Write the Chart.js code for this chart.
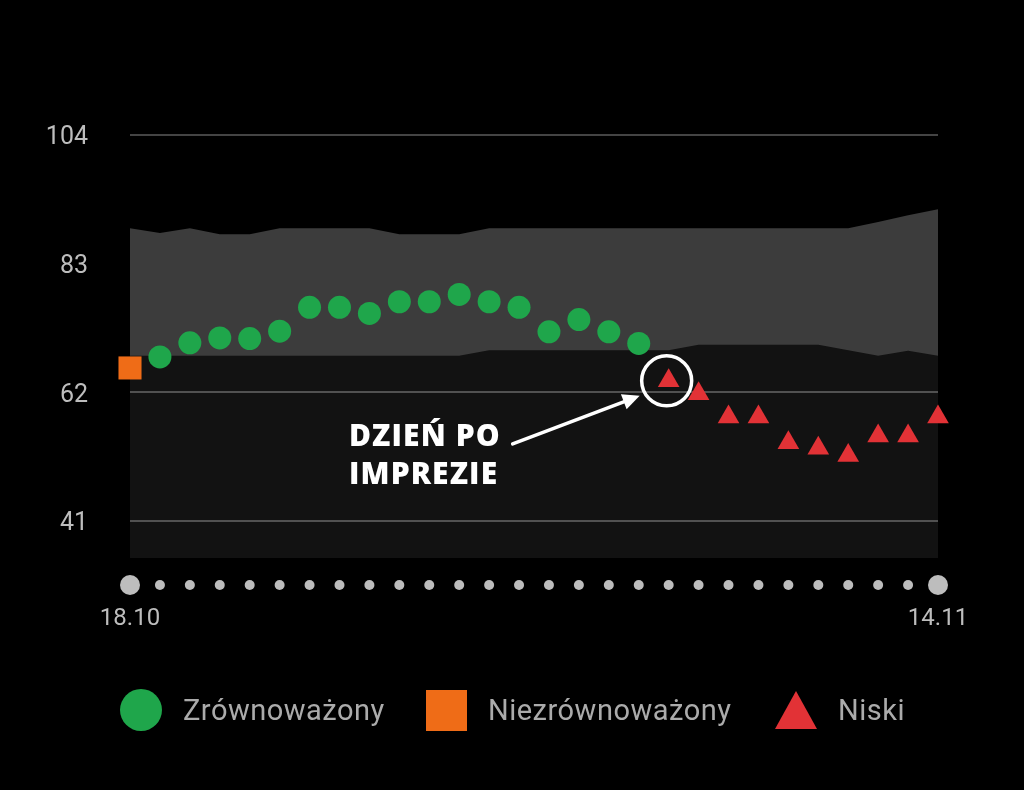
<!DOCTYPE html>
<html lang="pl">
<head>
<meta charset="utf-8">
<script src="https://cdn.jsdelivr.net/npm/chart.js@4"></script>
<style>
  body { margin: 0; background: #000; }
  #wrap { position: relative; width: 1024px; height: 790px; overflow: hidden; }
  #note {
    position: absolute; left: 349px; top: 416px;
    font: 800 30px/38px "Open Sans", sans-serif; color: #fff; letter-spacing: 1.1px;
  }
  .leg { position: absolute; top: 689px; height: 42px; display: flex; align-items: center;
    font: 400 29px "Roboto", sans-serif; color: #ababab; letter-spacing: 0.5px; }
  .leg span.mk { display: inline-block; margin-right: 21px; }
</style>
</head>
<body>
<div id="wrap">
  <canvas id="chart" width="1024" height="790"></canvas>
  <div id="note">DZIEŃ PO<br>IMPREZIE</div>
  <div class="leg" style="left:120px"><span class="mk" style="width:42px;height:42px;border-radius:50%;background:#1fa64b"></span>Zrównoważony</div>
  <div class="leg" style="left:426px"><span class="mk" style="width:41px;height:41px;background:#ef6c17"></span>Niezrównoważony</div>
  <div class="leg" style="left:775px"><span class="mk" style="width:42px;height:38px;margin-right:21px"><svg width="42" height="38"><polygon points="21,0 42,38 0,38" fill="#e23236"/></svg></span>Niski</div>
</div>
<script>
const labels = [
  "18.10", "19.10", "20.10", "21.10", "22.10", "23.10", "24.10",
  "25.10", "26.10", "27.10", "28.10", "29.10", "30.10", "31.10",
  "01.11", "02.11", "03.11", "04.11", "05.11", "06.11", "07.11",
  "08.11", "09.11", "10.11", "11.11", "12.11", "13.11", "14.11",
];
const yTicks = [41, 62, 83, 104];

// values
const zrownowazony = [
  null, 67.8, 70.1, 70.9, 70.8, 72.0, 75.9, 75.9, 74.9, 76.8, 76.8, 78.0, 76.8, 75.9,
  71.9, 73.9, 71.9, 70.0, null, null, null, null, null, null, null, null, null, null,
];
const niezrownowazony = [
  66.0, null, null, null, null, null, null, null, null, null, null, null, null, null,
  null, null, null, null, null, null, null, null, null, null, null, null, null, null,
];
const niski = [
  null, null, null, null, null, null, null, null, null, null, null, null, null, null,
  null, null, null, null, 63.9, 61.8, 58.0, 58.0, 53.8, 52.9, 51.7, 54.9, 54.9, 58.0,
];
// normal range band
const normaDol = [
  68.0, 68.0, 68.0, 68.0, 68.0, 68.0, 68.0, 68.0, 68.0, 68.0, 68.0, 68.0, 68.9, 68.9,
  68.9, 68.9, 68.9, 68.9, 68.9, 69.8, 69.8, 69.8, 69.8, 69.8, 68.9, 68.0, 68.8, 68.0,
];
const normaGora = [
  88.8, 88.0, 88.8, 87.8, 87.8, 88.8, 88.8, 88.8, 88.8, 87.8, 87.8, 87.8, 88.8, 88.8,
  88.8, 88.8, 88.8, 88.8, 88.8, 88.8, 88.8, 88.8, 88.8, 88.8, 88.8, 89.8, 90.9, 91.9,
];
const markedDay = 18;

const decor = {
  id: "decor",
  afterDatasetsDraw(chart) {
    const ctx = chart.ctx;
    const x = chart.scales.x.getPixelForValue(markedDay);
    const y = chart.scales.y.getPixelForValue(niski[markedDay]);
    ctx.save();
    ctx.strokeStyle = "#fff";
    ctx.fillStyle = "#fff";
    ctx.lineWidth = 3.5;
    ctx.beginPath();
    ctx.arc(x - 2, y, 25, 0, Math.PI * 2);
    ctx.stroke();
    // arrow
    const tx = x - 29, ty = y + 15;
    const sx = x - 156, sy = y + 63;
    const ang = Math.atan2(ty - sy, tx - sx);
    ctx.lineCap = "round";
    ctx.beginPath();
    ctx.moveTo(sx, sy);
    ctx.lineTo(tx - Math.cos(ang) * 10, ty - Math.sin(ang) * 10);
    ctx.stroke();
    ctx.beginPath();
    ctx.moveTo(tx, ty);
    ctx.lineTo(tx - Math.cos(ang) * 17 - Math.sin(ang) * 8, ty - Math.sin(ang) * 17 + Math.cos(ang) * 8);
    ctx.lineTo(tx - Math.cos(ang) * 17 + Math.sin(ang) * 8, ty - Math.sin(ang) * 17 - Math.cos(ang) * 8);
    ctx.closePath();
    ctx.fill();
    ctx.restore();
  },
  afterDraw(chart) {
    const ctx = chart.ctx;
    const xs = chart.scales.x;
    const yy = chart.chartArea.bottom + 27;
    ctx.save();
    ctx.fillStyle = "#bdbdbd";
    labels.forEach((l, i) => {
      const r = i === 0 || i === labels.length - 1 ? 10 : 5;
      ctx.beginPath();
      ctx.arc(xs.getPixelForValue(i), yy, r, 0, Math.PI * 2);
      ctx.fill();
    });
    ctx.restore();
  },
};

new Chart(document.getElementById("chart"), {
  type: "line",
  data: {
    labels: labels,
    datasets: [
      {
        label: "Zrównoważony",
        data: zrownowazony,
        showLine: false,
        pointStyle: "circle",
        pointRadius: 11.5,
        pointBackgroundColor: "#1fa64b",
        pointBorderWidth: 0,
      },
      {
        label: "Niezrównoważony",
        data: niezrownowazony,
        showLine: false,
        pointStyle: "rect",
        pointRadius: 16.3,
        pointBackgroundColor: "#ef6c17",
        pointBorderWidth: 0,
      },
      {
        label: "Niski",
        data: niski,
        showLine: false,
        pointStyle: "triangle",
        pointRadius: 12.5,
        pointBackgroundColor: "#e23236",
        pointBorderWidth: 0,
      },
      {
        label: "dol",
        data: normaDol,
        borderWidth: 0,
        pointRadius: 0,
        tension: 0,
        fill: "start",
        backgroundColor: "rgba(255,255,255,0.07)",
      },
      {
        label: "gora",
        data: normaGora,
        borderWidth: 0,
        pointRadius: 0,
        tension: 0,
        fill: "-1",
        backgroundColor: "#3c3c3c",
      },
    ],
  },
  options: {
    responsive: false,
    animation: false,
    clip: false,
    layout: { padding: { top: 135, right: 86, left: 0, bottom: 0 } },
    plugins: {
      legend: { display: false },
      tooltip: { enabled: false },
    },
    scales: {
      x: {
        offset: false,
        grid: { display: false, drawTicks: false },
        border: { display: false },
        afterFit: (s) => { s.height = 232; },
        ticks: {
          autoSkip: false,
          maxRotation: 0,
          padding: 47,
          color: "#bdbdbd",
          font: { family: "Roboto", size: 24 },
          callback: (v, i) => (i === 0 || i === labels.length - 1 ? labels[i] : ""),
        },
      },
      y: {
        min: 35,
        max: 104,
        afterBuildTicks: (s) => { s.ticks = yTicks.map((v) => ({ value: v })); },
        afterFit: (s) => { s.width = 130; },
        grid: { color: "#444", lineWidth: 2, drawTicks: false },
        border: { display: false },
        ticks: {
          padding: 42,
          labelOffset: 3,
          color: "#bdbdbd",
          font: { family: "Roboto", size: 25 },
        },
      },
    },
  },
  plugins: [decor],
});
</script>
</body>
</html>
